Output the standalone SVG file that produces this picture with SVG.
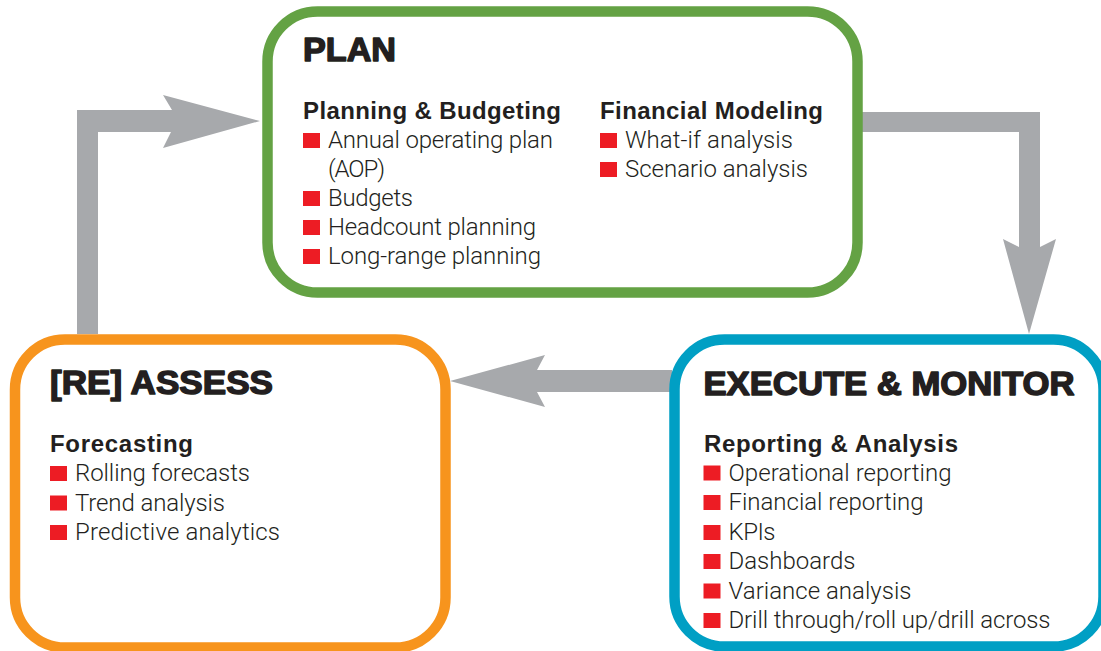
<svg xmlns="http://www.w3.org/2000/svg" width="1101" height="651" viewBox="0 0 1101 651">
  <style>
    .box { fill: #ffffff; stroke-width: 10.5; }
    .plan { stroke: #64a244; }
    .assess { stroke: #f7941d; }
    .exec { stroke: #009fc4; }
    .arrow { fill: #a7a9ac; stroke: none; }
    .head { font-family: "Liberation Sans", Arial, sans-serif; font-weight: 700; font-size: 34px; fill: #231f20; stroke: #231f20; stroke-width: 1.5; stroke-linejoin: round; }
    .sub { font-family: "Liberation Sans", Arial, sans-serif; font-weight: 700; font-size: 24px; fill: #231f20; }
    .item { font-family: Roboto, "Liberation Sans", sans-serif; font-weight: 300; font-size: 24px; fill: #231f20; }
    .bullet { fill: #ed1c24; }
  </style>
  <defs>
    <rect id="sq" class="bullet" width="17" height="15"/>
  </defs>

  <rect width="1101" height="651" fill="#ffffff"/>

  <!-- connectors: wide gray block arrows -->
  <g id="connectors">
    <!-- assess -> plan -->
    <polygon class="arrow" points="77,334 77,110 172,110 163,95 260,121 163,148 171,132 98,132 98,334"/>
    <!-- plan -> execute -->
    <polygon class="arrow" points="860,112 1040,112 1040,247 1056,239 1029,334 1003,239 1019,247 1019,132 860,132"/>
    <!-- execute -> assess -->
    <polygon class="arrow" points="672,370 537,370 545,355 450,381 545,407 537,392 672,392"/>
  </g>

  <!-- PLAN -->
  <g id="plan">
    <rect class="box plan" x="267.5" y="11.5" width="590" height="281" rx="50"/>
    <text class="head" x="303" y="61" textLength="93" lengthAdjust="spacingAndGlyphs">PLAN</text>
    <text class="sub" x="303" y="118.5" textLength="258">Planning &amp; Budgeting</text>
    <use href="#sq" x="303" y="133"/>
    <text class="item" x="328" y="148" textLength="225">Annual operating plan</text>
    <text class="item" x="328" y="177" textLength="57">(AOP)</text>
    <use href="#sq" x="303" y="191"/>
    <text class="item" x="328" y="206" textLength="85">Budgets</text>
    <use href="#sq" x="303" y="220"/>
    <text class="item" x="328" y="235" textLength="208">Headcount planning</text>
    <use href="#sq" x="303" y="249"/>
    <text class="item" x="328" y="264" textLength="213">Long-range planning</text>

    <text class="sub" x="600" y="118.5" textLength="223">Financial Modeling</text>
    <use href="#sq" x="600" y="133"/>
    <text class="item" x="625" y="148" textLength="168">What-if analysis</text>
    <use href="#sq" x="600" y="162"/>
    <text class="item" x="625" y="177" textLength="183">Scenario analysis</text>
  </g>

  <!-- [RE] ASSESS -->
  <g id="assess">
    <rect class="box assess" x="15" y="339.5" width="430.5" height="308" rx="50"/>
    <text class="head" x="50" y="394" textLength="223" lengthAdjust="spacingAndGlyphs">[RE] ASSESS</text>
    <text class="sub" x="50" y="451.5" textLength="143">Forecasting</text>
    <use href="#sq" x="50" y="466"/>
    <text class="item" x="75" y="481" textLength="175">Rolling forecasts</text>
    <use href="#sq" x="50" y="495.5"/>
    <text class="item" x="75" y="510.5" textLength="150">Trend analysis</text>
    <use href="#sq" x="50" y="525"/>
    <text class="item" x="75" y="540" textLength="205">Predictive analytics</text>
  </g>

  <!-- EXECUTE & MONITOR -->
  <g id="execute">
    <rect class="box exec" x="674.5" y="339.5" width="429" height="307" rx="50"/>
    <text class="head" x="703.5" y="395" textLength="371" lengthAdjust="spacingAndGlyphs">EXECUTE &amp; MONITOR</text>
    <text class="sub" x="704" y="451.5" textLength="254">Reporting &amp; Analysis</text>
    <use href="#sq" x="703.5" y="465.5"/>
    <text class="item" x="728.5" y="480.5" textLength="223">Operational reporting</text>
    <use href="#sq" x="703.5" y="495"/>
    <text class="item" x="728.5" y="510" textLength="195">Financial reporting</text>
    <use href="#sq" x="703.5" y="525"/>
    <text class="item" x="728.5" y="540" textLength="47">KPIs</text>
    <use href="#sq" x="703.5" y="554"/>
    <text class="item" x="728.5" y="569" textLength="127">Dashboards</text>
    <use href="#sq" x="703.5" y="583.5"/>
    <text class="item" x="728.5" y="598.5" textLength="183">Variance analysis</text>
    <use href="#sq" x="703.5" y="613"/>
    <text class="item" x="728.5" y="628" textLength="322">Drill through/roll up/drill across</text>
  </g>
</svg>
